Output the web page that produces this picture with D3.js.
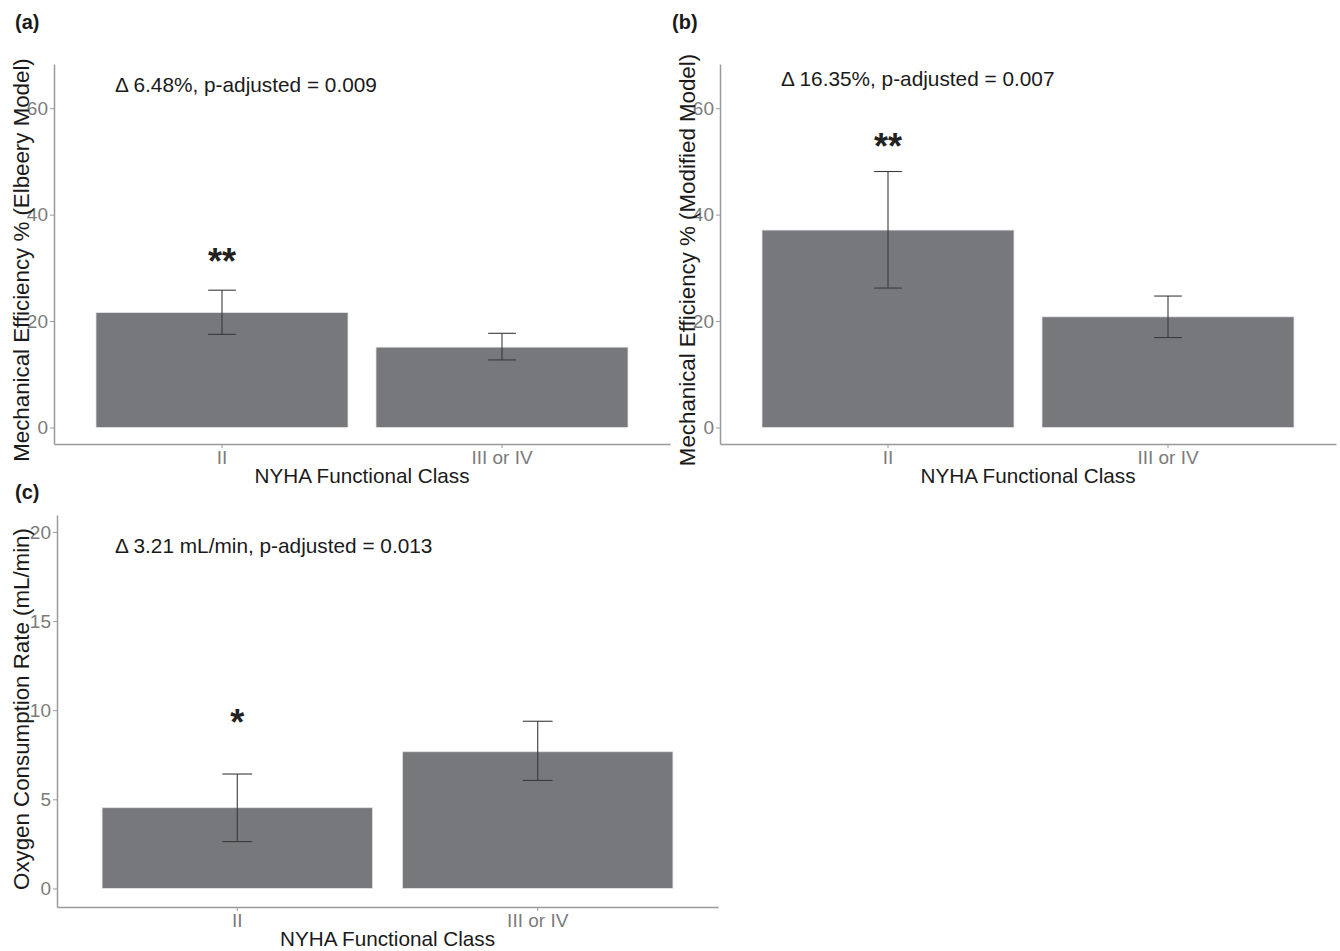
<!DOCTYPE html>
<html>
<head>
<meta charset="utf-8">
<script src="https://cdn.jsdelivr.net/npm/d3@7"></script>
<style>
  body { margin: 0; background: #fff; }
  svg { font-family: "Liberation Sans", Arial, sans-serif; }
  .tick text { fill: #7b7b7b; font-size: 19px; }
  .tick line { stroke: #9a9a9a; }
  .domain { stroke: #9a9a9a; stroke-width: 1.5px; }
</style>
</head>
<body>
<svg width="1340" height="951"></svg>
<script>
const classes = ["II", "III or IV"];

// (a) Elbeery model
const effElbeery = [21.6, 15.1];
const effElbeeryLo = [17.5, 12.7];
const effElbeeryHi = [25.8, 17.7];

// (b) modified model
const effModified = [37.1, 20.8];
const effModifiedLo = [26.2, 16.9];
const effModifiedHi = [48.1, 24.7];

// (c) oxygen consumption
const o2Rate = [4.53, 7.67];
const o2RateLo = [2.63, 6.06];
const o2RateHi = [6.42, 9.38];

const effTicks = [0, 20, 40, 60];
const o2Ticks = [0, 5, 10, 15, 20];

const stars = ["**", "**", "*"];
const starY = [32.7, 54.4, 9.8];

const notes = [
  "\u0394 6.48%, p-adjusted = 0.009",
  "\u0394 16.35%, p-adjusted = 0.007",
  "\u0394 3.21 mL/min, p-adjusted = 0.013"
];

const svg = d3.select("svg");

const panels = [
  {tag: "(a)", tagX: 15, tagY: 29, left: 54, right: 670, top: 64, bottom: 444,
   yDomain: [-3.1, 68.3], ticks: effTicks, vals: effElbeery, lo: effElbeeryLo, hi: effElbeeryHi,
   star: stars[0], starV: starY[0], note: notes[0], noteX: 115, noteY: 92,
   ytitle: "Mechanical Efficiency % (Elbeery Model)", ytitleX: 21, ytitleShift: 6},
  {tag: "(b)", tagX: 672, tagY: 29, left: 720, right: 1336, top: 64, bottom: 444,
   yDomain: [-3.1, 68.3], ticks: effTicks, vals: effModified, lo: effModifiedLo, hi: effModifiedHi,
   star: stars[1], starV: starY[1], note: notes[1], noteX: 781, noteY: 86,
   ytitle: "Mechanical Efficiency % (Modified Model)", ytitleX: 687, ytitleShift: 6},
  {tag: "(c)", tagX: 15, tagY: 499, left: 57, right: 718, top: 515, bottom: 907,
   yDomain: [-1.04, 20.95], ticks: o2Ticks, vals: o2Rate, lo: o2RateLo, hi: o2RateHi,
   star: stars[2], starV: starY[2], note: notes[2], noteX: 115, noteY: 553,
   ytitle: "Oxygen Consumption Rate (mL/min)", ytitleX: 21, ytitleShift: -2}
];

panels.forEach(p => {
  const g = svg.append("g");

  const x = d3.scaleBand()
    .domain(classes)
    .range([p.left, p.right])
    .paddingInner(0.1)
    .paddingOuter(0.15);

  const y = d3.scaleLinear()
    .domain(p.yDomain)
    .range([p.bottom, p.top]);

  const rows = classes.map((c, i) => ({c, v: p.vals[i], lo: p.lo[i], hi: p.hi[i]}));

  // bars
  g.selectAll("rect.bar")
    .data(rows)
    .join("rect")
    .attr("class", "bar")
    .attr("x", d => x(d.c))
    .attr("y", d => y(d.v))
    .attr("width", x.bandwidth())
    .attr("height", d => y(0) - y(d.v))
    .attr("fill", "#77787b")
    .attr("stroke", "#e4e4e4")
    .attr("stroke-width", 0.8);

  // error bars
  const capW = x.bandwidth() * 0.11;
  const eb = g.selectAll("g.err")
    .data(rows)
    .join("g")
    .attr("class", "err")
    .attr("stroke", "#3a3a3a")
    .attr("stroke-width", 1.1);
  eb.append("line")
    .attr("x1", d => x(d.c) + x.bandwidth() / 2)
    .attr("x2", d => x(d.c) + x.bandwidth() / 2)
    .attr("y1", d => y(d.lo))
    .attr("y2", d => y(d.hi));
  eb.append("line")
    .attr("x1", d => x(d.c) + x.bandwidth() / 2 - capW / 2)
    .attr("x2", d => x(d.c) + x.bandwidth() / 2 + capW / 2)
    .attr("y1", d => y(d.hi))
    .attr("y2", d => y(d.hi));
  eb.append("line")
    .attr("x1", d => x(d.c) + x.bandwidth() / 2 - capW / 2)
    .attr("x2", d => x(d.c) + x.bandwidth() / 2 + capW / 2)
    .attr("y1", d => y(d.lo))
    .attr("y2", d => y(d.lo));

  // axes
  g.append("g")
    .attr("transform", `translate(${p.left},0)`)
    .call(d3.axisLeft(y).tickValues(p.ticks).tickSize(4).tickSizeOuter(0).tickPadding(2));

  g.append("g")
    .attr("transform", `translate(0,${p.bottom})`)
    .call(d3.axisBottom(x).tickSize(4).tickSizeOuter(0).tickPadding(3))
    .selectAll("text")
    .attr("dy", "0.71em");

  // star over first bar
  g.append("text")
    .attr("x", x(classes[0]) + x.bandwidth() / 2)
    .attr("y", y(p.starV) + 21)
    .attr("text-anchor", "middle")
    .style("font-size", "36px")
    .style("font-weight", "bold")
    .attr("fill", "#222")
    .text(p.star);

  // annotation
  g.append("text")
    .attr("x", p.noteX)
    .attr("y", p.noteY)
    .style("font-size", "20.8px")
    .attr("fill", "#1a1a1a")
    .text(p.note);

  // axis titles
  g.append("text")
    .attr("transform", "rotate(-90)")
    .attr("x", -((p.top + p.bottom) / 2 + p.ytitleShift))
    .attr("y", p.ytitleX)
    .attr("dy", "0.35em")
    .attr("text-anchor", "middle")
    .style("font-size", "22.3px")
    .attr("fill", "#1a1a1a")
    .text(p.ytitle);

  g.append("text")
    .attr("x", (p.left + p.right) / 2)
    .attr("y", p.bottom + 39)
    .attr("text-anchor", "middle")
    .style("font-size", "20.7px")
    .attr("fill", "#1a1a1a")
    .text("NYHA Functional Class");

  // panel tag
  g.append("text")
    .attr("x", p.tagX)
    .attr("y", p.tagY)
    .style("font-size", "20px")
    .style("font-weight", "bold")
    .attr("fill", "#1a1a1a")
    .text(p.tag);
});
</script>
</body>
</html>
